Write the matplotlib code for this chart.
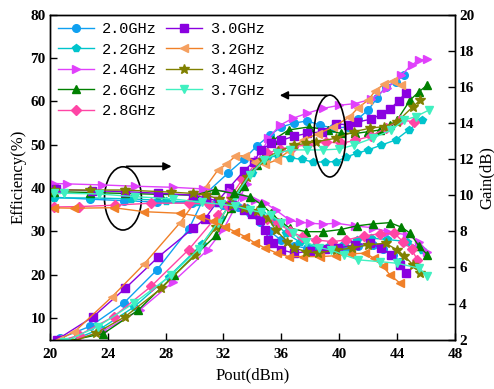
import matplotlib
matplotlib.use("Agg")
import matplotlib.pyplot as plt
from matplotlib.patches import Ellipse

# ---- data ----
labels = ["2.0GHz", "2.2GHz", "2.4GHz", "2.6GHz", "2.8GHz",
          "3.0GHz", "3.2GHz", "3.4GHz", "3.7GHz"]

# efficiency (%) vs Pout (dBm)
eff_x_20 = [20.7, 22.8, 25.1, 27.4, 29.6, 30.8, 32.3, 33.4, 34.3, 35.2, 36.0, 36.9, 37.8, 38.7, 39.6, 40.6, 41.3, 42.0, 42.6, 43.2, 43.9, 44.5]
eff_y_20 = [5.3, 8.1, 13.4, 21.1, 30.5, 38.8, 43.4, 46.6, 49.7, 52.2, 54.1, 55.0, 55.5, 54.5, 53.8, 54.1, 56.0, 58.0, 60.7, 63.4, 64.5, 66.1]
eff_x_22 = [21.3, 23.5, 25.8, 28.2, 30.5, 31.8, 32.9, 34.0, 35.0, 35.8, 36.6, 37.4, 38.2, 39.0, 39.8, 40.5, 41.2, 42.0, 42.9, 43.9, 44.8, 45.7]
eff_y_22 = [4.5, 7.5, 12.5, 19.5, 27.0, 33.0, 38.5, 43.5, 47.0, 47.5, 47.0, 46.6, 46.0, 46.0, 46.1, 47.2, 48.0, 48.8, 49.9, 51.1, 53.4, 55.7]
eff_x_24 = [21.3, 23.7, 26.2, 28.5, 30.9, 32.0, 32.8, 33.6, 34.4, 35.1, 35.9, 36.8, 37.8, 38.9, 40.0, 41.1, 42.2, 43.3, 44.3, 45.0, 45.5, 46.1]
eff_y_24 = [4.5, 7.0, 11.8, 18.3, 25.7, 30.5, 35.5, 41.0, 46.5, 51.5, 54.5, 56.1, 57.3, 58.4, 59.1, 59.5, 60.5, 63.0, 66.1, 68.4, 69.5, 69.8]
eff_x_26 = [21.0, 23.7, 26.1, 28.6, 31.5, 32.5, 33.4, 34.3, 35.4, 36.5, 37.9, 39.2, 40.1, 41.1, 42.0, 42.8, 43.5, 44.0, 44.9, 45.5, 46.1]
eff_y_26 = [4.5, 6.4, 11.8, 19.9, 29.1, 35.5, 40.5, 45.3, 51.0, 53.4, 54.1, 53.4, 52.6, 52.6, 53.0, 53.4, 54.5, 55.7, 60.3, 62.2, 63.8]
eff_x_28 = [20.8, 22.0, 24.4, 27.0, 29.6, 31.6, 32.5, 33.3, 34.2, 35.0, 35.9, 36.8, 37.8, 39.1, 40.1, 41.1, 42.2, 43.2, 44.2, 45.2]
eff_y_28 = [4.8, 6.0, 10.3, 17.3, 25.8, 33.7, 38.0, 42.0, 45.5, 48.0, 49.0, 49.5, 50.0, 50.7, 50.3, 51.0, 52.0, 53.8, 55.7, 55.3]
eff_x_30 = [20.5, 23.0, 25.2, 27.5, 29.9, 30.7, 31.6, 32.4, 33.4, 34.1, 34.6, 35.3, 36.0, 36.9, 37.8, 38.8, 39.8, 40.6, 41.2, 42.2, 42.9, 43.5, 44.1, 44.6]
eff_y_30 = [5.0, 10.3, 16.8, 24.1, 30.7, 32.8, 37.0, 40.1, 43.9, 46.1, 48.8, 50.3, 51.0, 52.0, 52.6, 53.0, 54.8, 54.6, 55.2, 55.9, 57.0, 58.2, 60.1, 62.0]
eff_x_32 = [20.6, 21.7, 24.3, 26.5, 29.0, 30.7, 31.6, 32.2, 32.8, 33.5, 34.2, 34.9, 35.7, 36.5, 37.5, 38.5, 39.6, 40.7, 41.3, 42.0, 42.5, 43.1, 43.7, 44.3]
eff_y_32 = [5.0, 6.8, 14.9, 22.4, 32.0, 39.9, 44.1, 45.5, 47.3, 47.5, 46.0, 45.5, 46.5, 48.5, 51.1, 52.5, 54.1, 56.4, 58.5, 60.3, 62.5, 64.0, 64.8, 63.8]
eff_x_34 = [21.5, 23.2, 25.2, 27.7, 30.0, 31.5, 32.6, 33.6, 34.7, 35.8, 36.9, 37.7, 38.4, 39.8, 41.0, 42.1, 43.1, 44.0, 45.1, 45.6]
eff_y_34 = [4.5, 6.5, 10.3, 16.8, 24.5, 31.0, 37.5, 42.5, 46.4, 48.5, 49.9, 50.3, 50.7, 51.5, 53.0, 53.8, 54.2, 55.3, 58.8, 60.3]
eff_x_37 = [21.0, 23.3, 25.8, 28.4, 30.3, 31.6, 32.8, 33.8, 34.8, 35.7, 36.6, 37.8, 38.9, 40.0, 41.0, 42.3, 43.6, 44.5, 45.3, 46.2]
eff_y_37 = [4.5, 8.0, 13.4, 19.9, 26.0, 32.0, 38.0, 43.0, 46.5, 48.0, 48.8, 48.8, 48.8, 49.0, 49.9, 51.5, 53.4, 55.7, 56.5, 58.0]

# gain (dB) vs Pout (dBm)
gain_x_20 = [20.3, 22.8, 25.1, 27.4, 29.8, 31.0, 32.0, 33.0, 33.8, 34.5, 35.2, 36.0, 36.9, 37.8, 38.7, 39.6, 40.5, 41.3, 42.3, 43.0, 43.7, 44.2]
gain_y_20 = [9.89, 9.78, 9.70, 9.62, 9.56, 9.50, 9.45, 9.35, 9.0, 8.5, 8.0, 7.5, 7.2, 7.05, 7.0, 7.05, 7.1, 7.2, 7.25, 7.0, 6.7, 6.32]
gain_x_22 = [20.3, 22.8, 25.6, 28.0, 30.2, 31.5, 32.6, 33.6, 34.6, 35.5, 36.3, 37.3, 38.3, 39.3, 40.3, 41.2, 42.2, 43.3, 44.7, 45.7]
gain_y_22 = [9.85, 9.85, 9.8, 9.7, 9.6, 9.55, 9.45, 9.3, 9.0, 8.5, 7.9, 7.4, 7.2, 7.2, 7.3, 7.5, 7.62, 7.55, 7.43, 6.97]
gain_x_24 = [20.3, 21.2, 23.6, 25.9, 28.5, 30.6, 32.5, 33.4, 34.2, 34.9, 35.6, 36.6, 37.3, 38.0, 38.9, 39.8, 41.1, 42.3, 43.4, 44.7, 45.5, 46.1]
gain_y_24 = [10.65, 10.63, 10.57, 10.5, 10.44, 10.35, 10.2, 9.92, 9.74, 9.56, 9.19, 8.6, 8.5, 8.45, 8.4, 8.45, 8.3, 8.2, 7.98, 7.8, 7.43, 6.88]
gain_x_26 = [20.3, 22.8, 25.2, 27.6, 30.0, 31.4, 32.7, 33.8, 34.6, 35.3, 36.0, 36.6, 37.7, 38.9, 40.1, 41.2, 42.3, 43.5, 44.3, 44.9, 45.5, 46.1]
gain_y_26 = [10.2, 10.15, 10.1, 10.05, 10.0, 10.3, 10.1, 9.92, 9.5, 9.0, 8.5, 8.17, 7.98, 7.98, 8.1, 8.3, 8.41, 8.48, 8.23, 7.9, 7.19, 6.7]
gain_x_28 = [20.3, 22.0, 24.5, 27.0, 29.6, 31.0, 32.3, 33.4, 34.3, 35.0, 35.8, 36.6, 37.4, 38.4, 39.5, 40.5, 41.7, 42.8, 43.8, 44.4, 45.0, 45.4]
gain_y_28 = [9.35, 9.37, 9.45, 9.56, 9.56, 9.5, 9.4, 9.3, 9.0, 8.7, 8.45, 8.0, 7.71, 7.52, 7.43, 7.52, 7.75, 7.86, 7.9, 7.43, 7.01, 6.42]
gain_x_30 = [20.4, 22.9, 25.2, 27.5, 29.9, 30.8, 31.7, 32.6, 33.4, 34.0, 34.5, 34.9, 35.1, 35.4, 36.0, 36.9, 38.0, 39.0, 39.9, 41.1, 42.1, 42.9, 43.6, 44.2, 44.6]
gain_y_30 = [10.33, 10.25, 10.2, 10.11, 10.0, 9.85, 9.65, 9.45, 9.2, 8.95, 8.63, 8.08, 7.52, 7.34, 6.97, 6.79, 6.9, 7.0, 7.07, 7.25, 7.34, 7.07, 6.69, 6.14, 5.68]
gain_x_32 = [20.3, 21.7, 24.4, 26.5, 29.0, 30.4, 31.3, 32.1, 32.8, 33.5, 34.2, 34.9, 35.7, 36.5, 37.5, 38.7, 39.8, 40.8, 41.8, 42.4, 43.0, 43.5, 44.2]
gain_y_32 = [9.3, 9.28, 9.31, 9.09, 9.0, 8.82, 8.55, 8.26, 7.98, 7.71, 7.34, 7.07, 6.79, 6.6, 6.6, 6.6, 6.65, 6.75, 6.79, 6.51, 6.09, 5.59, 5.13]
gain_x_34 = [20.3, 22.8, 25.2, 28.4, 29.9, 30.8, 31.7, 32.6, 33.4, 34.3, 35.1, 35.6, 36.4, 36.9, 37.7, 38.5, 39.8, 40.9, 42.0, 43.2, 44.0, 44.5, 45.1, 45.6]
gain_y_34 = [10.29, 10.29, 10.29, 10.17, 10.1, 10.0, 9.8, 9.46, 9.3, 9.1, 8.73, 8.08, 7.43, 7.07, 6.88, 6.79, 6.97, 7.07, 7.25, 7.34, 6.97, 6.64, 6.14, 5.68]
gain_x_37 = [20.3, 21.0, 23.4, 25.9, 28.5, 30.5, 31.8, 32.8, 33.8, 34.6, 35.3, 36.0, 36.8, 37.7, 38.6, 39.4, 40.3, 41.3, 42.8, 44.0, 45.5, 46.1]
gain_y_37 = [10.1, 10.11, 10.07, 9.92, 9.8, 9.6, 9.5, 9.4, 9.19, 9.05, 8.9, 8.45, 7.9, 7.4, 7.1, 6.97, 6.7, 6.42, 6.32, 6.23, 5.96, 5.53]

eff_x = [eff_x_20, eff_x_22, eff_x_24, eff_x_26, eff_x_28, eff_x_30, eff_x_32, eff_x_34, eff_x_37]
eff_y = [eff_y_20, eff_y_22, eff_y_24, eff_y_26, eff_y_28, eff_y_30, eff_y_32, eff_y_34, eff_y_37]
gain_x = [gain_x_20, gain_x_22, gain_x_24, gain_x_26, gain_x_28, gain_x_30, gain_x_32, gain_x_34, gain_x_37]
gain_y = [gain_y_20, gain_y_22, gain_y_24, gain_y_26, gain_y_28, gain_y_30, gain_y_32, gain_y_34, gain_y_37]

colors = ["#0FA0F0", "#00C4CC", "#E040FB", "#008000", "#FF45A5",
          "#8A00E0", "#F5A060", "#808000", "#40F0C0"]
line_colors = ["#0FA0F0", "#00C4CC", "#E040FB", "#008000", "#FF45A5",
               "#8A00E0", "#F08028", "#808000", "#40F0C0"]
markers = ["o", "p", ">", "^", "D", "s", "<", "*", "v"]
msizes = [5.5, 6, 6, 6, 5, 5.5, 6, 7.5, 6]

fig = plt.figure(figsize=(4.94, 3.89), dpi=100)
ax = fig.add_axes([0.101, 0.127, 0.82, 0.835])
ax2 = ax.twinx()

for i in range(len(labels)):
    ax.plot(eff_x[i], eff_y[i], color=line_colors[i], marker=markers[i],
            markerfacecolor=colors[i], markeredgecolor=colors[i],
            markersize=msizes[i], linewidth=1, label=labels[i])
    ax2.plot(gain_x[i], gain_y[i], color=line_colors[i], marker=markers[i],
             markerfacecolor=line_colors[i], markeredgecolor=line_colors[i],
             markersize=msizes[i], linewidth=1)

ax.set_xlim(20, 48)
ax.set_ylim(5, 80)
ax2.set_ylim(2, 20)
ax.set_xticks(range(20, 49, 4))
ax.set_yticks(range(10, 81, 10))
ax2.set_yticks(range(2, 21, 2))

for a in (ax, ax2):
    a.tick_params(direction="in", length=5, width=1, pad=3)
    for t in a.get_xticklabels() + a.get_yticklabels():
        t.set_fontfamily("Liberation Serif")
        t.set_fontweight("bold")
        t.set_fontsize(11)
    for s in a.spines.values():
        s.set_linewidth(1)
ax.tick_params(axis="x", pad=6)

lab_font = {"family": "Liberation Serif", "size": 12}
ax.set_xlabel("Pout(dBm)", fontdict=lab_font, labelpad=5)
ax.set_ylabel("Efficiency(%)", fontdict=lab_font, labelpad=3)
ax2.set_ylabel("Gain(dB)", fontdict=lab_font, labelpad=3)

# ellipses with arrows
ax.add_patch(Ellipse((25.05, 37.6), 2.55, 14.6, fill=False, edgecolor="black", linewidth=1.2, zorder=5))
ax.annotate("", xy=(28.6, 45.0), xytext=(25.1, 45.0),
            arrowprops=dict(arrowstyle="-|>", color="black", lw=1.2, mutation_scale=12), zorder=5)
ax.add_patch(Ellipse((39.35, 52.0), 2.2, 18.9, fill=False, edgecolor="black", linewidth=1.2, zorder=5))
ax.annotate("", xy=(35.7, 61.4), xytext=(39.35, 61.4),
            arrowprops=dict(arrowstyle="-|>", color="black", lw=1.2, mutation_scale=12), zorder=5)

ax.legend(loc="upper left", ncol=2, frameon=False,
          prop={"family": "Liberation Mono", "size": 11},
          handlelength=2.4, labelspacing=0.42, columnspacing=0.6,
          handletextpad=0.5, borderaxespad=0.2, borderpad=0.3)

fig.savefig("out.png", dpi=100)
